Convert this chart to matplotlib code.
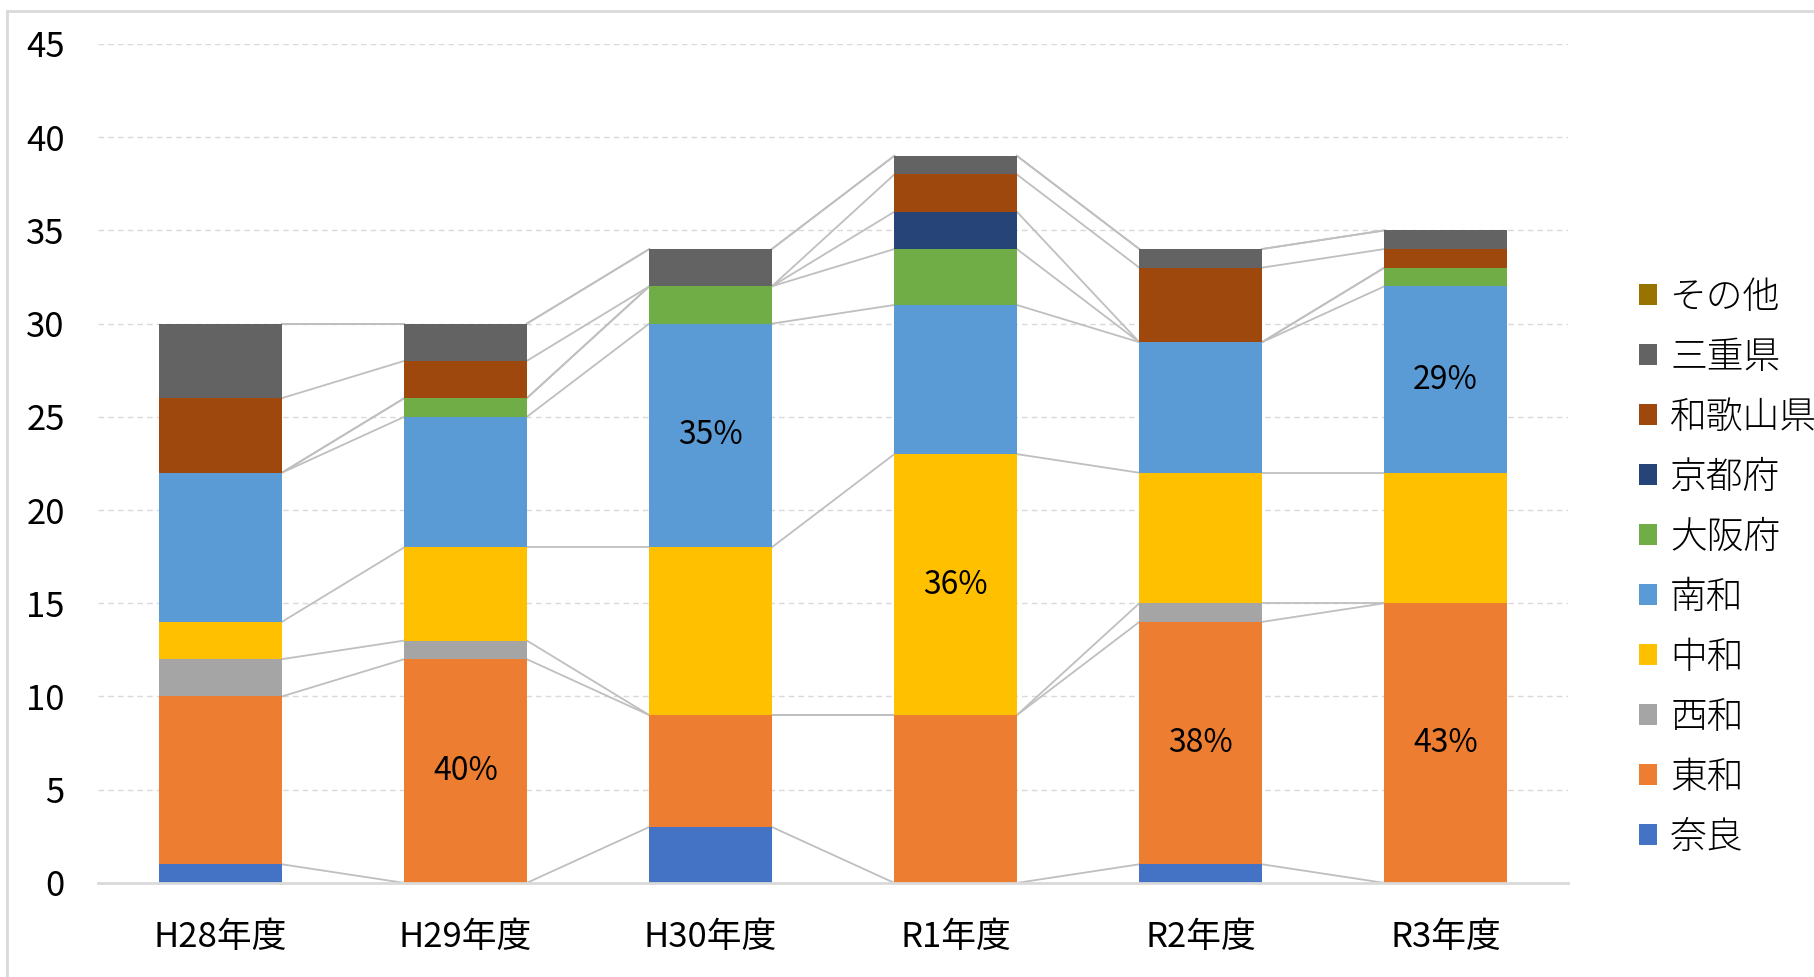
import matplotlib.pyplot as plt
import numpy as np
from matplotlib.lines import Line2D

plt.rcParams['font.family'] = ['Noto Sans CJK JP', 'DejaVu Sans']

years = ['H28年度', 'H29年度', 'H30年度', 'R1年度', 'R2年度', 'R3年度']
series_names = ['奈良', '東和', '西和', '中和', '南和', '大阪府', '京都府', '和歌山県', '三重県', 'その他']
colors = ['#4472C4', '#ED7D31', '#A5A5A5', '#FFC000', '#5B9BD5',
          '#70AD47', '#264478', '#9E480E', '#636363', '#997300']

nara = [1, 0, 3, 0, 1, 0]
towa = [9, 12, 6, 9, 13, 15]
seiwa = [2, 1, 0, 0, 1, 0]
chuwa = [2, 5, 9, 14, 7, 7]
nanwa = [8, 7, 12, 8, 7, 10]
osaka = [0, 1, 2, 3, 0, 1]
kyoto = [0, 0, 0, 2, 0, 0]
wakayama = [4, 2, 0, 2, 4, 1]
mie = [4, 2, 2, 1, 1, 1]
other = [0, 0, 0, 0, 0, 0]

# (year index, series index) of the segments that carry a share label
pct_labels = [(1, 1), (2, 4), (3, 3), (4, 1), (5, 1), (5, 4)]

data = np.array([nara, towa, seiwa, chuwa, nanwa, osaka, kyoto, wakayama, mie, other], dtype=float)
x = np.arange(len(years))
width = 0.5

fig = plt.figure(figsize=(18.15, 9.77), dpi=100)
ax = fig.add_axes([0.054, 0.0963, 0.81, 0.8587])

bottoms = np.zeros(len(years))
tops = []
for i, name in enumerate(series_names):
    ax.bar(x, data[i], width, bottom=bottoms, color=colors[i], label=name, zorder=3)
    bottoms = bottoms + data[i]
    tops.append(bottoms.copy())

# series lines between neighbouring bars
for top in tops:
    for j in range(len(years) - 1):
        ax.plot([x[j] + width / 2, x[j + 1] - width / 2], [top[j], top[j + 1]],
                color='#BFBFBF', lw=1.3, zorder=2)

totals = data.sum(axis=0)
for j, i in pct_labels:
    base = data[:i, j].sum()
    ax.text(x[j], base + data[i, j] / 2, '{:.0f}%'.format(100 * data[i, j] / totals[j]),
            ha='center', va='center', fontsize=23, zorder=4)

ax.set_xlim(-0.5, len(years) - 0.5)
ax.set_ylim(0, 45)
ax.set_yticks(np.arange(0, 46, 5))
ax.set_xticks(x)
ax.set_xticklabels(years)
ax.tick_params(axis='both', length=0, labelsize=25)
ax.tick_params(axis='x', pad=27)
ax.tick_params(axis='y', pad=24)
ax.grid(axis='y', color='#D9D9D9', linestyle=(0, (4, 3)), lw=1, zorder=0)
for s in ['top', 'right', 'left']:
    ax.spines[s].set_visible(False)
ax.spines['bottom'].set_color('#D9D9D9')
ax.spines['bottom'].set_linewidth(2)
ax.spines['bottom'].set_zorder(5)

handles, labels = ax.get_legend_handles_labels()
ax.legend(handles[::-1], labels[::-1], loc='center left', bbox_to_anchor=(0.903, 0.419),
          bbox_transform=fig.transFigure, frameon=False,
          prop={'size': 26.5, 'weight': 'light'},
          handlelength=0.5, handleheight=0.5, handletextpad=0.35, labelspacing=0.585,
          borderpad=0, borderaxespad=0)

# chart frame: only the top and left edges are visible in the crop
fig.add_artist(Line2D([0.004, 1.0], [0.989, 0.989], transform=fig.transFigure,
                      color='#D9D9D9', lw=2))
fig.add_artist(Line2D([0.004, 0.004], [0.0, 0.989], transform=fig.transFigure,
                      color='#D9D9D9', lw=2))

fig.savefig('out.png', dpi=100)
